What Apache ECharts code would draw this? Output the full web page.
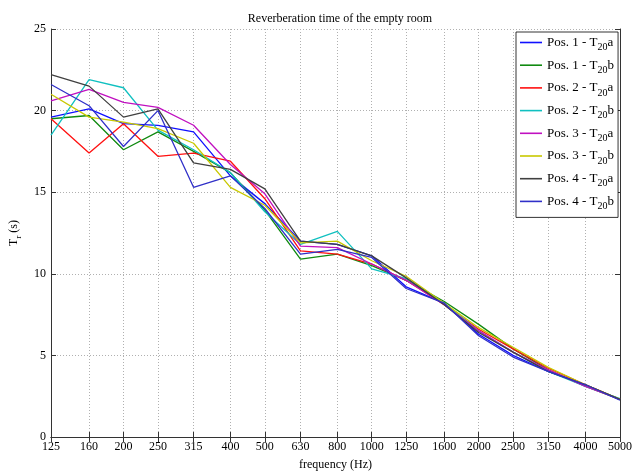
<!DOCTYPE html>
<html>
<head>
    <meta charset="utf-8">
    <title>Reverberation time</title>
    <script type="text/javascript" src="https://cdn.jsdelivr.net/npm/echarts@6/dist/echarts.min.js"></script>
    <style>
        html, body { margin: 0; padding: 0; background: #fff; }
    </style>
</head>
<body>
	<div id="main" style="height:476px; width:635px;"></div>
	<script type="text/javascript">
	// third-octave band centres (Hz)
	var freqs = [125, 160, 200, 250, 315, 400, 500, 630, 800, 1000, 1250, 1600, 2000, 2500, 3150, 4000, 5000];
	var yTicks = [0, 5, 10, 15, 20, 25];

	var pos1a = [19.6, 20.1, 19.2, 19.1, 18.7, 16.0, 14.3, 12.0, 11.8, 11.1, 9.2, 8.2, 6.3, 5.0, 4.0, 3.2, 2.3];
	var pos1b = [19.5, 19.7, 17.6, 18.7, 17.5, 16.2, 13.9, 10.9, 11.2, 10.5, 9.6, 8.3, 6.9, 5.4, 4.1, 3.1, 2.3];
	var pos2a = [19.5, 17.4, 19.2, 17.2, 17.4, 16.9, 14.6, 11.4, 11.2, 10.6, 9.6, 8.1, 6.6, 5.4, 4.2, 3.2, 2.3];
	var pos2b = [18.5, 21.9, 21.4, 18.8, 17.6, 16.2, 13.8, 11.8, 12.6, 10.3, 9.7, 8.2, 6.5, 5.2, 4.0, 3.1, 2.35];
	var pos3a = [20.6, 21.3, 20.5, 20.2, 19.1, 16.7, 14.9, 11.7, 11.6, 10.6, 9.6, 8.1, 6.5, 5.2, 4.1, 3.1, 2.3];
	var pos3b = [21.0, 19.6, 19.3, 18.9, 18.0, 15.3, 14.2, 11.9, 12.0, 10.8, 9.85, 8.2, 6.7, 5.5, 4.25, 3.2, 2.3];
	var pos4a = [22.2, 21.5, 19.6, 20.1, 16.8, 16.4, 15.2, 12.0, 11.8, 11.1, 9.75, 8.1, 6.4, 5.2, 4.0, 3.2, 2.3];
	var pos4b = [21.6, 20.3, 17.8, 20.0, 15.3, 16.0, 14.0, 11.2, 11.5, 11.0, 9.1, 8.2, 6.2, 4.9, 4.0, 3.2, 2.25];

	var seriesNames = ['Pos. 1 - T20a', 'Pos. 1 - T20b', 'Pos. 2 - T20a', 'Pos. 2 - T20b',
	                   'Pos. 3 - T20a', 'Pos. 3 - T20b', 'Pos. 4 - T20a', 'Pos. 4 - T20b'];
	var seriesData = [pos1a, pos1b, pos2a, pos2b, pos3a, pos3b, pos4a, pos4b];
	var colors = ['#1010ff', '#108a10', '#ff1010', '#10c0c0', '#c010c0', '#c8c800', '#404040', '#3030c8'];

	var serif = '"Liberation Serif", "Times New Roman", serif';
	var myChart = echarts.init(document.getElementById('main'));

	var series = [];
	seriesNames.forEach(function(v, k){
		series.push({
			name: v,
			type: 'line',
			symbol: 'none',
			data: freqs.map(function(f, i){ return [f, seriesData[k][i]]; }),
			lineStyle: {width: 1.3, color: colors[k]},
			itemStyle: {color: colors[k]}
		});
	});

	var gridLine = {show: true, lineStyle: {color: '#b0b0b0', type: [1, 2], width: 1}};
	var option = {
		animation: false,
		title: {
			text: 'Reverberation time of the empty room',
			left: 335, top: 8, textAlign: 'center',
			textStyle: {fontFamily: serif, fontSize: 12, fontWeight: 'normal', color: '#000'}
		},
		legend: {
			orient: 'vertical',
			left: 516, top: 32, width: 100,
			padding: [4, 4, 6, 4],
			itemGap: 6.2,
			icon: 'rect',
			itemWidth: 22, itemHeight: 1.6,
			backgroundColor: '#fff',
			borderColor: '#000', borderWidth: 0.8, borderRadius: 0,
			data: seriesNames,
			formatter: function(name){
				var m = name.match(/^(.*T)20(.)$/);
				return '{n|' + m[1] + '}{s|20}{n|' + m[2] + '}';
			},
			textStyle: {
				fontFamily: serif, color: '#000', fontSize: 13,
				rich: {
					n: {fontFamily: serif, fontSize: 13, color: '#000'},
					s: {fontFamily: serif, fontSize: 10, color: '#000', padding: [10, 0, 0, 0]}
				}
			}
		},
		grid: {left: 48, right: 14, top: 29, bottom: 33},
		xAxis: [{
			type: 'log', logBase: 10, min: 125, max: 5000,
			name: 'frequency (Hz)', nameLocation: 'middle', nameGap: 22,
			nameTextStyle: {fontFamily: serif, fontSize: 12, color: '#000'},
			axisLine: {lineStyle: {color: '#333', width: 1}},
			axisTick: {inside: true, length: 5, customValues: freqs, lineStyle: {color: '#333'}},
			axisLabel: {
				customValues: freqs, fontFamily: serif, fontSize: 12, color: '#000', margin: 4,
				formatter: function(v){ return String(Math.round(v)); }
			},
			splitLine: gridLine,
			minorTick: {show: false}
		}, {
			type: 'log', logBase: 10, min: 125, max: 5000, position: 'top',
			axisLine: {lineStyle: {color: '#333', width: 1}},
			axisTick: {inside: true, length: 5, customValues: freqs, lineStyle: {color: '#333'}},
			axisLabel: {show: false},
			splitLine: {show: false}
		}],
		yAxis: [{
			type: 'value', min: 0, max: 25, interval: 5,
			name: '{t|T}{r|r}{t| (s)}', nameLocation: 'middle', nameGap: 28,
			nameTextStyle: {
				fontFamily: serif, fontSize: 12, color: '#000',
				rich: {
					t: {fontFamily: serif, fontSize: 12, color: '#000'},
					r: {fontFamily: serif, fontSize: 9, color: '#000', padding: [9, 0, 0, 0]}
				}
			},
			axisLine: {show: true, lineStyle: {color: '#333', width: 1}},
			axisTick: {show: true, inside: true, length: 5, lineStyle: {color: '#333'}},
			axisLabel: {fontFamily: serif, fontSize: 12, color: '#000', margin: 5},
			splitLine: gridLine
		}, {
			type: 'value', min: 0, max: 25, interval: 5, position: 'right',
			axisLine: {show: true, lineStyle: {color: '#333', width: 1}},
			axisTick: {show: true, inside: true, length: 5, lineStyle: {color: '#333'}},
			axisLabel: {show: false},
			splitLine: {show: false}
		}],
		series: series
	};
	myChart.setOption(option);
	</script>
</body>
</html>
